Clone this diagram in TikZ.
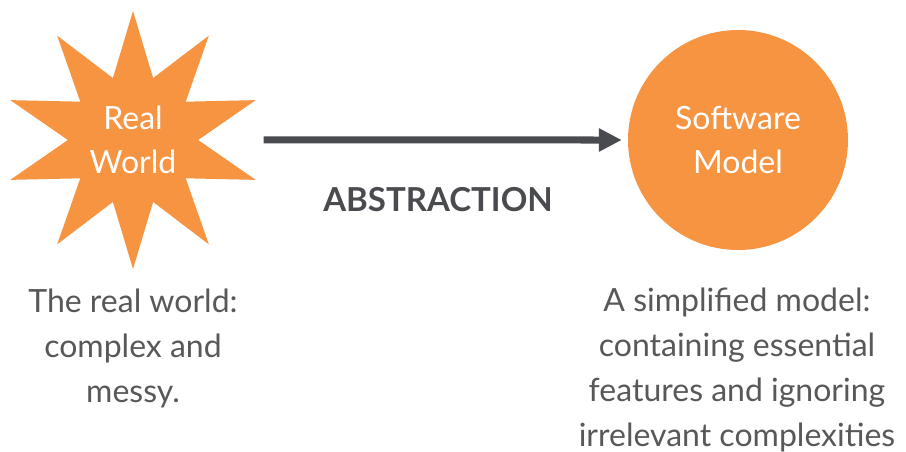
\documentclass[tikz,border=0pt]{standalone}
\usepackage{fontspec}
\setmainfont{Lato}
\usepackage{tikz}
\usetikzlibrary{shapes.geometric,arrows.meta}

\definecolor{orng}{RGB}{247,148,66}
\definecolor{darkgr}{RGB}{74,75,79}
\definecolor{textgr}{RGB}{88,88,90}

\begin{document}
\begin{tikzpicture}[x=1pt,y=-1pt,
    blob_text/.style={text=white,align=center,font=\fontsize{32}{44}\selectfont},
    note_text/.style={text=textgr,align=center,font=\fontsize{32}{45}\selectfont},
    star_node/.style={star,star points=10,star point ratio=1.98,minimum size=258pt,inner sep=0pt,fill=orng,blob_text},
    circle_node/.style={circle,minimum size=220pt,inner sep=0pt,fill=orng,blob_text}]

    \useasboundingbox (0,0) rectangle (906,452);

    \node[star_node] (real) at (133,140) {Real\\World};
    \node[circle_node] (model) at (738,140) {Software\\Model};
    \draw[darkgr, line width=7pt, shorten <=65pt, shorten >=6pt, -{Triangle[length=23pt,width=22pt]}] (real) -- (model);

    \node[text=darkgr, font=\fontsize{33}{36}\bfseries] (abstr) at (438,200) {ABSTRACTION};

    \node[note_text] (realnote) at (133,348) {The real world:\\complex and\\messy.};
    \node[note_text] (modelnote) at (737,370) {A simplified model:\\containing essential\\features and ignoring\\irrelevant complexities};
\end{tikzpicture}
\end{document}
